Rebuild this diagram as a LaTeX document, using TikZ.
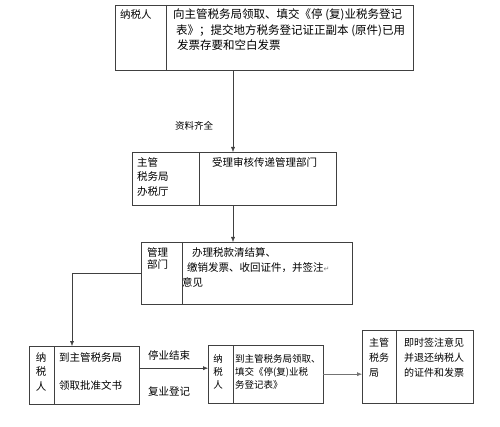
\documentclass[tikz,border=0pt]{standalone}
\usepackage{fontspec}
\setmainfont{Noto Sans CJK SC}
\newfontfamily\markfont{DejaVu Sans}
\usetikzlibrary{arrows.meta}
\usetikzlibrary{positioning}

\tikzset{
  box/.style={draw=black!75, rectangle, anchor=north west, inner sep=0pt},
  txt/.style={anchor=north west, inner sep=0pt, align=left, font=\fontsize{10.5}{15}\selectfont},
  arr/.style={draw=black!75, -{Latex[length=5pt,width=4pt]}}
}

\begin{document}
\begin{tikzpicture}[x=1pt, y=-1pt]
    \useasboundingbox[fill=white] (0,0) rectangle (500,427);
    \coordinate (mid) at (233,0);
    \coordinate (drop) at (72,0);

    % Application
    \node[box, minimum width=298pt, minimum height=65pt] (apply) at (115,5) {};
    \draw[black!75] ([xshift=51pt]apply.north west) -- ([xshift=51pt]apply.south west);
    \node[txt] (applyWho) at (120,9) {纳税人};
    \node[txt, font=\fontsize{11.5}{15.5}\selectfont] (applyWhat) at (173,9)
      {向主管税务局领取、填交《停 (复)业税务登记\\
       \hspace*{3pt}表》；提交地方税务登记证正副本 (原件)已用\\
       \hspace*{4pt}发票存要和空白发票};

    % Acceptance
    \node[box, minimum width=204pt, minimum height=53pt] (accept) at (132,152) {};
    \draw[black!75] ([xshift=67pt]accept.north west) -- ([xshift=67pt]accept.south west);
    \node[txt, font=\fontsize{10.5}{14.5}\selectfont] (acceptWho) at (137,157) {主管\\税务局\\办税厅};
    \node[txt] (acceptWhat) at (212,157) {受理审核传递管理部门};

    % Settlement
    \node[box, minimum width=211pt, minimum height=62pt] (settle) at (141,242) {};
    \draw[black!75] ([xshift=41pt]settle.north west) -- ([xshift=41pt]settle.south west);
    \node[txt, font=\fontsize{10.5}{12.5}\selectfont] (settleWho) at (147,247) {管理\\部门};
    \node[txt] (settleWhat) at (182,247)
      {\hspace*{10pt}办理税款清结算、\\
       \hspace*{5pt}缴销发票、收回证件，并签注{\markfont\color{black!50}\scriptsize ↵}\\
       意见};

    % Permit
    \node[box, minimum width=110pt, minimum height=58pt] (permit) at (29,346) {};
    \draw[black!75] ([xshift=25pt]permit.north west) -- ([xshift=25pt]permit.south west);
    \node[txt, anchor=north, align=center, font=\fontsize{10.5}{14.5}\selectfont] (permitWho) at (41,352) {纳\\税\\人};
    \node[txt, font=\fontsize{10.5}{28}\selectfont] (permitWhat) at (59,352) {到主管税务局\\领取批准文书};

    % Resumption
    \node[box, minimum width=115pt, minimum height=58pt] (resume) at (208,345) {};
    \draw[black!75] ([xshift=25pt]resume.north west) -- ([xshift=25pt]resume.south west);
    \node[txt, anchor=north, align=center, font=\fontsize{9.5}{13}\selectfont] (resumeWho) at (218,354) {纳\\税\\人};
    \node[txt, font=\fontsize{9.5}{13}\selectfont] (resumeWhat) at (235,354)
      {到主管税务局领取、\\填交《停(复)业税\\务登记表》};

    % Return of papers
    \node[box, minimum width=111pt, minimum height=73pt] (bureau) at (362,330) {};
    \draw[black!75] ([xshift=34pt]bureau.north west) -- ([xshift=34pt]bureau.south west);
    \node[txt, font=\fontsize{10}{15}\selectfont] (bureauWho) at (369,338) {主管\\税务\\局};
    \node[txt, font=\fontsize{10}{15}\selectfont] (bureauWhat) at (404,338)
      {即时签注意见\\并退还纳税人\\的证件和发票};

    % Connectors
    \draw[arr] (apply.south -| mid) -- (accept.north -| mid);
    \draw[arr] (accept.south -| mid) -- (settle.north -| mid);
    \draw[arr] (settle.west) -| (permit.north -| drop);
    \draw[arr] ([yshift=7pt]permit.east) -- ([yshift=7pt]permit.east -| resume.west);
    \draw[arr, draw=black!55] (resume.east) -- (resume.east -| bureau.west);

    % Labels
    \node[font=\fontsize{9.5}{12}\selectfont] (ready) at (194,126) {资料齐全};
    \node[font=\fontsize{10.5}{12}\selectfont] (closed) at (169,355) {停业结束};
    \node[font=\fontsize{10.5}{12}\selectfont] (reopen) at (169,392) {复业登记};
\end{tikzpicture}
\end{document}
